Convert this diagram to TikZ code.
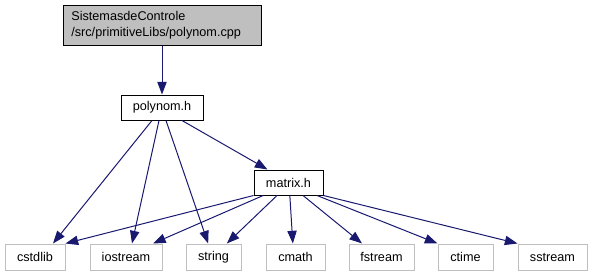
\documentclass[tikz,border=0pt]{standalone}
\usepackage{fontspec}
\setmainfont{Liberation Sans}
\usetikzlibrary{arrows.meta}

\definecolor{edgeblue}{HTML}{191970}
\definecolor{boxgray}{HTML}{BFBFBF}

\begin{document}
\begin{tikzpicture}[x=0.75pt,y=-0.75pt,
  every node/.style={inner sep=0pt,font=\fontsize{9.5}{12}\selectfont},
  filebox/.style={draw=black,line width=0.75pt,fill=white,minimum height=18.75pt},
  rootbox/.style={filebox,fill=boxgray,minimum width=148.5pt,minimum height=30pt,
    align=left,text width=136pt},
  sysbox/.style={draw=boxgray,line width=0.75pt,fill=white,minimum height=19.5pt},
  dep/.style={draw=edgeblue,line width=0.75pt,-{Triangle[length=9.5pt,width=7pt]}}]
\useasboundingbox (0,0) rectangle (593,276);

% files of the project
\node[rootbox] (root) at (162,25) {SistemasdeControle\\/src/primitiveLibs/polynom.cpp};
\node[filebox,minimum width=61.5pt] (polynom) at (162,107.5) {polynom.h};
\node[filebox,minimum width=51.75pt] (matrix) at (288.5,182.5) {matrix.h};

% system headers
\node[sysbox,minimum width=45pt] (cstdlib) at (35,257) {cstdlib};
\node[sysbox,minimum width=54pt] (iostream) at (126,257) {iostream};
\node[sysbox,minimum width=41.25pt] (string) at (213.5,257) {string};
\node[sysbox,minimum width=44.25pt] (cmath) at (295.5,257) {cmath};
\node[sysbox,minimum width=48.75pt] (fstream) at (381.5,257) {fstream};
\node[sysbox,minimum width=41.25pt] (ctime) at (465.5,257) {ctime};
\node[sysbox,minimum width=51.75pt] (sstream) at (552.5,257) {sstream};

% includes
\draw[dep] (root.south) -- (polynom.north);
\draw[dep] ([xshift=-7.5pt]polynom.south) -- ([xshift=13.5pt]cstdlib.north);
\draw[dep] ([xshift=-2.25pt]polynom.south) -- ([xshift=4.5pt]iostream.north);
\draw[dep] ([xshift=3pt]polynom.south) -- ([xshift=-4pt]string.north);
\draw[dep] ([xshift=15pt]polynom.south) -- ([xshift=-15.75pt]matrix.north);

\draw[dep] (matrix.south west) -- (cstdlib.north east);
\draw[dep] ([xshift=-19pt]matrix.south) -- ([xshift=20.25pt]iostream.north);
\draw[dep] ([xshift=-8.6pt]matrix.south) -- ([xshift=10pt]string.north);
\draw[dep] ([xshift=1pt]matrix.south) -- ([xshift=-2pt]cmath.north);
\draw[dep] ([xshift=10.9pt]matrix.south) -- ([xshift=-14.6pt]fstream.north);
\draw[dep] ([xshift=21.4pt]matrix.south) -- (ctime.north west);
\draw[dep] (matrix.south east) -- (sstream.north west);
\end{tikzpicture}
\end{document}
